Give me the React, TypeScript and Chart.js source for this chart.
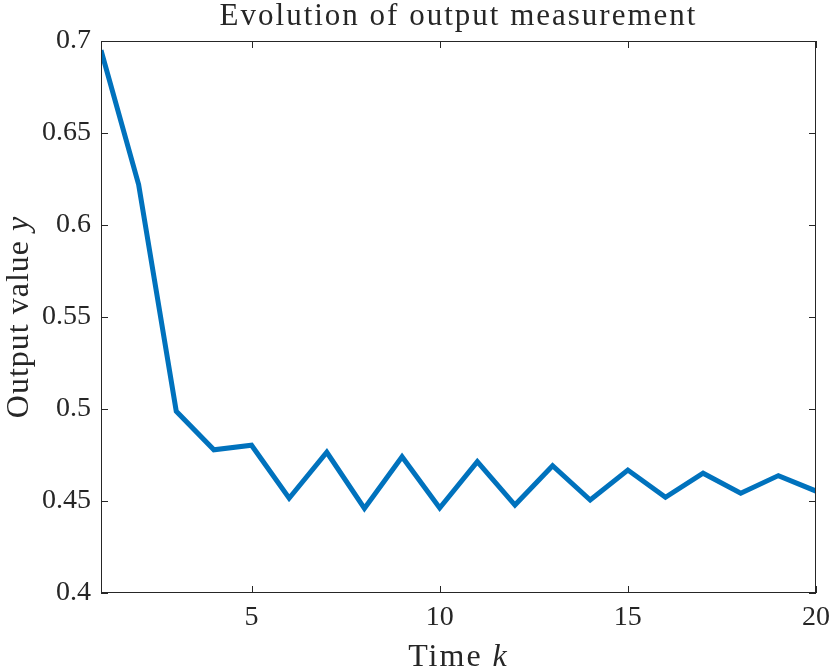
import { useEffect, useRef } from "react";
import { Chart, registerables } from "chart.js";

Chart.register(...registerables);

// time steps and measured output
const timeK = [1, 2, 3, 4, 5, 6, 7, 8, 9, 10, 11, 12, 13, 14, 15, 16, 17, 18, 19, 20];
const outputY = [
  0.695, 0.622, 0.4988, 0.4778, 0.4803, 0.4515, 0.4765, 0.446, 0.4741, 0.4462,
  0.4714, 0.4478, 0.4692, 0.4505, 0.4668, 0.452, 0.4651, 0.4542, 0.4638, 0.4554,
];
const xTicks = [5, 10, 15, 20];
const yTicks = [0.4, 0.45, 0.5, 0.55, 0.6, 0.65, 0.7];

const FONT = "'Liberation Serif', 'Times New Roman', serif";
const AXIS = "#262626";

// draws "plain + italic" text centred on cx
function mixedText(
  ctx: CanvasRenderingContext2D,
  plain: string,
  ital: string,
  cx: number,
  y: number,
  size: number,
  spacing: string
) {
  (ctx as any).letterSpacing = spacing;
  ctx.font = `${size}px ${FONT}`;
  const w1 = ctx.measureText(plain).width;
  ctx.font = `italic ${size}px ${FONT}`;
  const w2 = ctx.measureText(ital).width;
  const sx = cx - (w1 + w2) / 2;
  ctx.textAlign = "left";
  ctx.font = `${size}px ${FONT}`;
  ctx.fillText(plain, sx, y);
  ctx.font = `italic ${size}px ${FONT}`;
  ctx.fillText(ital, sx + w1, y);
}

// box + inward ticks + titles (MATLAB look)
const matlabAxes = {
  id: "matlabAxes",
  afterDraw: (chart: Chart) => {
    const { ctx, chartArea: a } = chart;
    const xs = chart.scales.x;
    const ys = chart.scales.y;
    const tl = 7;
    ctx.save();
    ctx.strokeStyle = AXIS;
    ctx.lineWidth = 1;
    ctx.strokeRect(a.left + 0.5, a.top + 0.5, a.right - a.left - 1, a.bottom - a.top - 1);
    ctx.beginPath();
    xTicks.forEach((v) => {
      const px = Math.round(xs.getPixelForValue(v)) + 0.5;
      ctx.moveTo(px, a.bottom);
      ctx.lineTo(px, a.bottom - tl);
      ctx.moveTo(px, a.top);
      ctx.lineTo(px, a.top + tl);
    });
    yTicks.forEach((v) => {
      const py = Math.round(ys.getPixelForValue(v)) + 0.5;
      ctx.moveTo(a.left, py);
      ctx.lineTo(a.left + tl, py);
      ctx.moveTo(a.right, py);
      ctx.lineTo(a.right - tl, py);
    });
    ctx.stroke();

    ctx.fillStyle = AXIS;
    ctx.textBaseline = "alphabetic";
    const cx = (a.left + a.right) / 2;

    // title
    (ctx as any).letterSpacing = "2px";
    ctx.font = `31px ${FONT}`;
    ctx.textAlign = "center";
    ctx.fillText("Evolution of output measurement", cx, 25);

    // x title with italic k
    mixedText(ctx, "Time ", "k", cx, 666, 32, "2px");

    // y title with italic y
    const cy = (a.top + a.bottom) / 2;
    ctx.translate(28, cy);
    ctx.rotate(-Math.PI / 2);
    mixedText(ctx, "Output value ", "y", 0, 0, 32, "1px");
    ctx.restore();
  },
};

function OutputChart() {
  const canvasRef = useRef<HTMLCanvasElement | null>(null);

  useEffect(() => {
    const el = canvasRef.current;
    if (!el) return;
    const chart = new Chart(el, {
      type: "line",
      data: {
        datasets: [
          {
            data: timeK.map((k, i) => ({ x: k, y: outputY[i] })),
            borderColor: "#0072BD",
            borderWidth: 5,
            pointRadius: 0,
            tension: 0,
            fill: false,
          },
        ],
      },
      options: {
        animation: false,
        responsive: false,
        devicePixelRatio: 1,
        layout: { padding: { left: 0, top: 41, right: 14, bottom: 0 } },
        plugins: { legend: { display: false }, tooltip: { enabled: false } },
        scales: {
          x: {
            type: "linear",
            min: 1,
            max: 20,
            afterBuildTicks: (s) => {
              s.ticks = xTicks.map((v) => ({ value: v }));
            },
            afterFit: (s) => {
              s.height = 76;
              s.paddingLeft = 0;
              s.paddingRight = 0;
            },
            grid: { display: false, drawTicks: false },
            border: { display: false },
            ticks: {
              color: AXIS,
              padding: 8,
              font: { family: FONT, size: 28 },
              maxRotation: 0,
            },
          },
          y: {
            type: "linear",
            min: 0.4,
            max: 0.7,
            afterBuildTicks: (s) => {
              s.ticks = yTicks.map((v) => ({ value: v }));
            },
            afterFit: (s) => {
              s.width = 101;
              s.paddingTop = 0;
              s.paddingBottom = 0;
            },
            grid: { display: false, drawTicks: false },
            border: { display: false },
            ticks: {
              color: AXIS,
              padding: 10,
              font: { family: FONT, size: 28 },
              callback: (v) => String(Number(v)),
            },
          },
        },
      },
      plugins: [matlabAxes],
    });
    return () => chart.destroy();
  }, []);

  return <canvas ref={canvasRef} width={830} height={669} style={{ display: "block" }} />;
}

export default function App() {
  useEffect(() => {
    document.body.style.margin = "0";
    document.body.style.background = "#ffffff";
  }, []);
  return (
    <div style={{ width: 830, height: 669, background: "#ffffff" }}>
      <OutputChart />
    </div>
  );
}
